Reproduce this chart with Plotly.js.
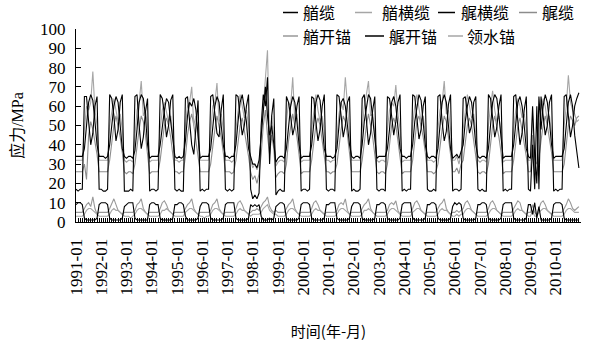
<!DOCTYPE html>
<html>
<head>
<meta charset="utf-8">
<script src="https://cdn.plot.ly/plotly-3.0.1.min.js"></script>
<style>html,body{margin:0;padding:0;background:#fff;}#chart{width:590px;height:348px;}</style>
</head>
<body>
<div id="chart"></div>
<script>
// ---- categories ----
const years = [1991,1992,1993,1994,1995,1996,1997,1998,1999,2000,2001,2002,2003,2004,2005,2006,2007,2008,2009,2010];
const monthCodes = ['01','02','03','04','05','06','07','08','09','10','11','12'];
const seriesNames = ['艏缆','艏横缆','艉横缆','艉缆','艏开锚','艉开锚','领水锚'];

// ---- series values (MPa), one row per year Jan..Dec ----
const bowLine = [ // 艏缆
17,16,17,17,65,65,52,40,46,60,65,17,
17,16,16,17,66,64,55,42,48,62,66,16,
16,16,17,16,65,66,50,38,44,57,64,16,
17,17,16,17,66,64,56,44,50,63,66,17,
16,17,16,16,64,65,52,40,35,48,63,16,
17,16,17,17,65,66,54,46,44,58,66,17,
16,17,16,17,66,65,55,45,50,60,66,17,
12,14,12,15,50,66,60,75,30,55,64,14,
16,17,16,16,65,62,55,45,50,60,65,16,
17,17,16,17,65,64,52,42,48,60,66,17,
16,17,17,16,66,65,55,44,50,62,65,16,
17,16,16,17,64,66,53,40,46,58,65,17,
16,17,17,16,65,64,55,45,52,62,66,16,
17,16,17,17,66,65,54,43,48,60,65,17,
16,16,17,16,65,66,52,42,47,61,66,16,
17,17,16,17,64,65,56,46,50,62,65,17,
16,17,16,16,66,64,54,44,49,60,66,16,
17,16,17,17,65,66,52,40,46,58,65,17,
16,40,17,60,17,65,55,45,50,62,66,16,
17,16,17,17,65,66,55,44,50,60,64,67];

const bowBreast = [ // 艏横缆
32,32,32,32,48,60,58,62,78,58,50,32,
32,32,32,32,50,58,64,58,52,56,48,32,
31,32,32,31,46,58,62,73,55,58,50,31,
32,32,32,32,48,58,62,57,52,55,46,32,
32,31,32,32,50,60,62,70,50,55,45,32,
32,32,32,32,46,60,62,72,52,56,48,32,
32,32,31,32,48,58,66,60,54,58,50,32,
28,30,27,30,45,60,70,89,40,55,45,29,
31,32,32,31,52,62,60,75,52,56,46,31,
32,32,32,32,48,58,66,58,52,55,47,32,
32,31,32,32,46,56,62,58,75,60,50,32,
32,32,32,32,48,60,66,73,55,56,46,32,
31,32,32,31,48,58,62,60,71,56,48,31,
32,32,32,32,50,60,66,58,52,55,46,32,
32,32,31,32,48,58,62,73,56,58,48,32,
32,34,30,35,48,58,66,60,54,56,46,32,
31,32,32,31,50,60,68,58,52,55,46,31,
32,32,32,32,48,58,64,60,54,56,48,32,
32,55,32,30,48,58,64,60,52,55,46,32,
32,32,32,32,50,60,76,62,58,56,52,53];

const sternBreast = [ // 艉横缆
34,34,34,34,38,50,62,66,63,52,40,34,
34,34,33,34,40,52,60,65,62,50,38,34,
33,34,34,33,37,48,62,66,64,55,40,33,
34,34,34,34,40,50,58,64,62,52,42,34,
33,34,33,34,42,55,62,60,64,58,45,33,
34,34,34,34,38,48,60,65,62,50,40,34,
34,33,34,34,40,52,62,66,60,52,38,34,
30,30,28,32,45,60,70,55,45,50,40,31,
33,34,34,33,38,50,60,65,62,52,40,33,
34,34,34,34,40,52,62,66,63,50,38,34,
34,34,33,34,38,50,62,64,60,50,40,34,
33,34,34,33,40,52,60,66,64,54,42,33,
34,34,34,34,38,48,62,65,60,50,38,34,
34,33,34,34,40,52,60,66,63,52,40,34,
33,34,34,33,38,50,62,66,62,50,38,33,
34,35,33,36,40,52,60,65,62,52,40,34,
33,34,34,33,38,50,62,66,64,55,42,33,
34,34,34,34,40,52,62,65,60,50,38,34,
33,60,34,20,65,48,60,66,62,52,40,33,
34,34,34,34,38,50,62,66,60,45,35,28];

const sternLine = [ // 艉缆
26,26,26,26,30,22,45,52,48,42,35,26,
26,26,26,26,32,42,50,55,50,44,36,26,
25,26,26,25,30,40,48,55,52,45,35,25,
26,26,26,26,32,42,50,54,50,44,36,26,
26,25,26,26,34,45,52,56,50,42,35,26,
26,26,26,26,30,40,48,55,50,44,36,26,
26,26,25,26,32,42,50,54,48,42,34,26,
22,24,20,25,35,50,58,45,35,45,38,23,
25,26,26,25,30,42,50,56,50,44,35,25,
26,26,26,26,32,42,50,54,50,42,34,26,
26,25,26,26,30,40,48,55,52,45,36,26,
26,26,26,26,32,42,50,56,50,44,35,26,
25,26,26,25,30,42,50,54,50,42,34,25,
26,26,26,26,32,44,52,55,50,44,36,26,
26,26,25,26,30,40,48,55,52,44,35,26,
26,28,25,30,32,42,50,54,50,42,34,26,
25,26,26,25,30,42,50,55,50,44,36,25,
26,26,26,26,32,42,50,54,48,42,34,26,
26,45,26,24,34,42,50,55,50,44,36,26,
26,26,26,26,30,42,50,55,52,50,54,55];

const bowAnchor = [ // 艏开锚
5,5,5,5,7,9,10,8,13,7,4,5,
5,5,5,5,7,10,12,9,6,5,4,5,
5,5,5,5,6,9,10,12,7,5,4,5,
5,5,5,5,7,10,11,9,6,5,4,5,
5,5,5,5,7,9,10,12,7,5,4,5,
5,5,5,5,6,9,10,12,7,5,4,5,
5,5,5,5,7,10,11,9,6,5,4,5,
6,6,7,6,8,10,11,13,8,6,5,6,
5,5,5,5,7,9,10,12,7,5,4,5,
5,5,5,5,7,10,11,9,6,5,4,5,
5,5,5,5,6,9,10,9,12,6,4,5,
5,5,5,5,7,9,10,12,7,5,4,5,
5,5,5,5,6,9,10,9,11,6,4,5,
5,5,5,5,7,10,11,9,6,5,4,5,
5,5,5,5,7,9,10,12,7,5,4,5,
5,6,5,6,7,10,11,9,6,5,4,5,
5,5,5,5,7,10,11,9,6,5,4,5,
5,5,5,5,7,9,11,10,6,5,4,5,
5,9,5,4,7,10,11,9,6,5,4,5,
5,5,5,5,7,9,12,10,7,6,7,8];

const sternAnchor = [ // 艉开锚
9,10,10,9,2,1,1,1,1,1,2,9,
10,10,10,9,2,1,1,1,1,1,2,8,
9,10,10,10,2,1,1,1,1,1,1,9,
10,10,9,9,2,1,1,1,1,1,2,9,
9,10,10,9,3,1,1,1,1,1,2,8,
10,10,10,9,2,1,1,1,1,1,2,9,
10,10,10,10,2,1,1,1,1,1,2,9,
8,9,8,9,3,1,1,1,2,1,2,8,
9,10,10,9,2,1,1,1,1,1,2,9,
10,10,10,9,2,1,1,1,1,1,2,9,
9,10,10,10,2,1,1,1,1,1,2,8,
10,10,10,9,2,1,1,1,1,1,2,9,
9,10,10,9,2,1,1,1,1,1,2,9,
10,10,10,10,2,1,1,1,1,1,2,9,
9,10,10,9,2,1,1,1,1,1,2,8,
10,9,10,9,2,1,1,1,1,1,2,9,
9,10,10,9,2,1,1,1,1,1,2,9,
10,10,10,10,2,1,1,1,1,1,2,9,
9,4,10,2,8,1,1,1,1,1,2,9,
10,10,10,9,2,1,1,1,1,1,1,1];

const pilotAnchor = [ // 领水锚
3,3,3,3,4,6,7,7,6,5,4,3,
3,3,3,3,4,6,7,6,6,5,4,3,
3,3,2,3,4,6,7,7,6,5,4,3,
3,3,3,3,4,6,6,7,6,5,4,3,
3,3,3,3,5,6,7,7,6,5,4,3,
3,2,3,3,4,6,7,7,6,5,4,3,
3,3,3,3,4,6,7,6,6,5,4,3,
4,4,4,4,5,7,8,9,6,5,4,4,
3,3,3,3,4,6,7,7,6,5,4,3,
3,3,3,3,4,6,7,6,6,5,4,3,
3,3,3,3,4,6,7,7,6,5,4,3,
3,3,3,3,4,6,6,7,6,5,4,3,
3,3,3,3,4,6,7,7,6,5,4,3,
3,3,3,3,5,6,7,7,6,5,4,3,
3,3,3,3,4,6,7,6,6,5,4,3,
3,4,3,4,4,6,7,7,6,5,4,3,
3,3,3,3,4,6,7,7,6,5,4,3,
3,3,3,3,4,6,7,6,6,5,4,3,
3,6,3,3,5,6,7,7,6,5,4,3,
3,3,3,3,4,6,7,7,6,5,5,5];

// ---- build ----
const categories = [];
years.forEach(y => monthCodes.forEach(m => categories.push(y + '-' + m)));
const tickText = categories.map(c => c.endsWith('-01') ? c : '');

const seriesValues = [bowLine, bowBreast, sternBreast, sternLine, bowAnchor, sternAnchor, pilotAnchor];
const lineColors = ['#000000', '#a6a6a6', '#000000', '#8c8c8c', '#999999', '#000000', '#a6a6a6'];
const drawOrder = [3, 1, 4, 6, 0, 2, 5];

const traces = drawOrder.map(i => ({
  type: 'scatter', mode: 'lines', name: seriesNames[i],
  x: categories, y: seriesValues[i],
  line: {color: lineColors[i], width: 1.1},
  showlegend: false, hoverinfo: 'skip'
}));

// legend (drawn as annotations + short line shapes), pixel layout
const W = 590, H = 348, mL = 76, mR = 9, mT = 29, mB = 126;
const pw = W - mL - mR, ph = H - mT - mB;
const px = x => (x - mL) / pw;
const py = y => (H - mB - y) / ph;
const legDashX = [283, 355, 438, 519, 283, 365, 448];
const legDashLen = [15, 17, 17, 18, 15, 19, 15];
const legTextX = [302, 381, 460, 541, 302, 388, 466];
const legY = [12.5, 12.5, 12.5, 12.5, 36, 36, 36];

const shapes = [], annotations = [];
seriesNames.forEach((n, i) => {
  shapes.push({type: 'line', xref: 'paper', yref: 'paper',
    x0: px(legDashX[i]), x1: px(legDashX[i] + legDashLen[i]), y0: py(legY[i]), y1: py(legY[i]),
    line: {color: lineColors[i], width: 1.5}});
  annotations.push({xref: 'paper', yref: 'paper', x: px(legTextX[i]), y: py(legY[i]),
    xanchor: 'left', yanchor: 'middle', showarrow: false, text: n, borderpad: 0,
    font: {family: 'Noto Sans CJK SC', size: 16, color: '#000'}});
});

const serif = '"Liberation Serif", "DejaVu Serif", serif';
const layout = {
  width: W, height: H,
  margin: {l: mL, r: mR, t: mT, b: mB, pad: 0},
  paper_bgcolor: '#fff', plot_bgcolor: '#fff',
  showlegend: false,
  xaxis: {
    type: 'category', range: [0, 240], autorange: false,
    tickmode: 'array', tickvals: categories, ticktext: tickText,
    ticks: 'inside', ticklen: 4, tickwidth: 1, tickcolor: '#000',
    tickangle: -90, ticklabelstandoff: 9,
    tickfont: {family: serif, size: 17, color: '#000'},
    showline: true, linecolor: '#000', linewidth: 1,
    showgrid: false, zeroline: false, automargin: false,
    title: {text: '时间(年-月)', font: {family: 'Noto Sans CJK SC', size: 15, color: '#000'}, standoff: 32}
  },
  yaxis: {
    range: [0, 100], autorange: false, tickmode: 'linear', tick0: 0, dtick: 10,
    ticks: 'inside', ticklen: 5, tickwidth: 1, tickcolor: '#000', ticklabelstandoff: 6,
    tickfont: {family: serif, size: 17, color: '#000'},
    showline: true, linecolor: '#000', linewidth: 1,
    showgrid: false, zeroline: false, automargin: false,
    title: {text: '应力/MPa', font: {family: '"Liberation Serif", "Noto Sans CJK SC", serif', size: 16, color: '#000'}, standoff: 12}
  },
  shapes: shapes,
  annotations: annotations
};

Plotly.newPlot('chart', traces, layout, {staticPlot: true, displayModeBar: false});
</script>
</body>
</html>
